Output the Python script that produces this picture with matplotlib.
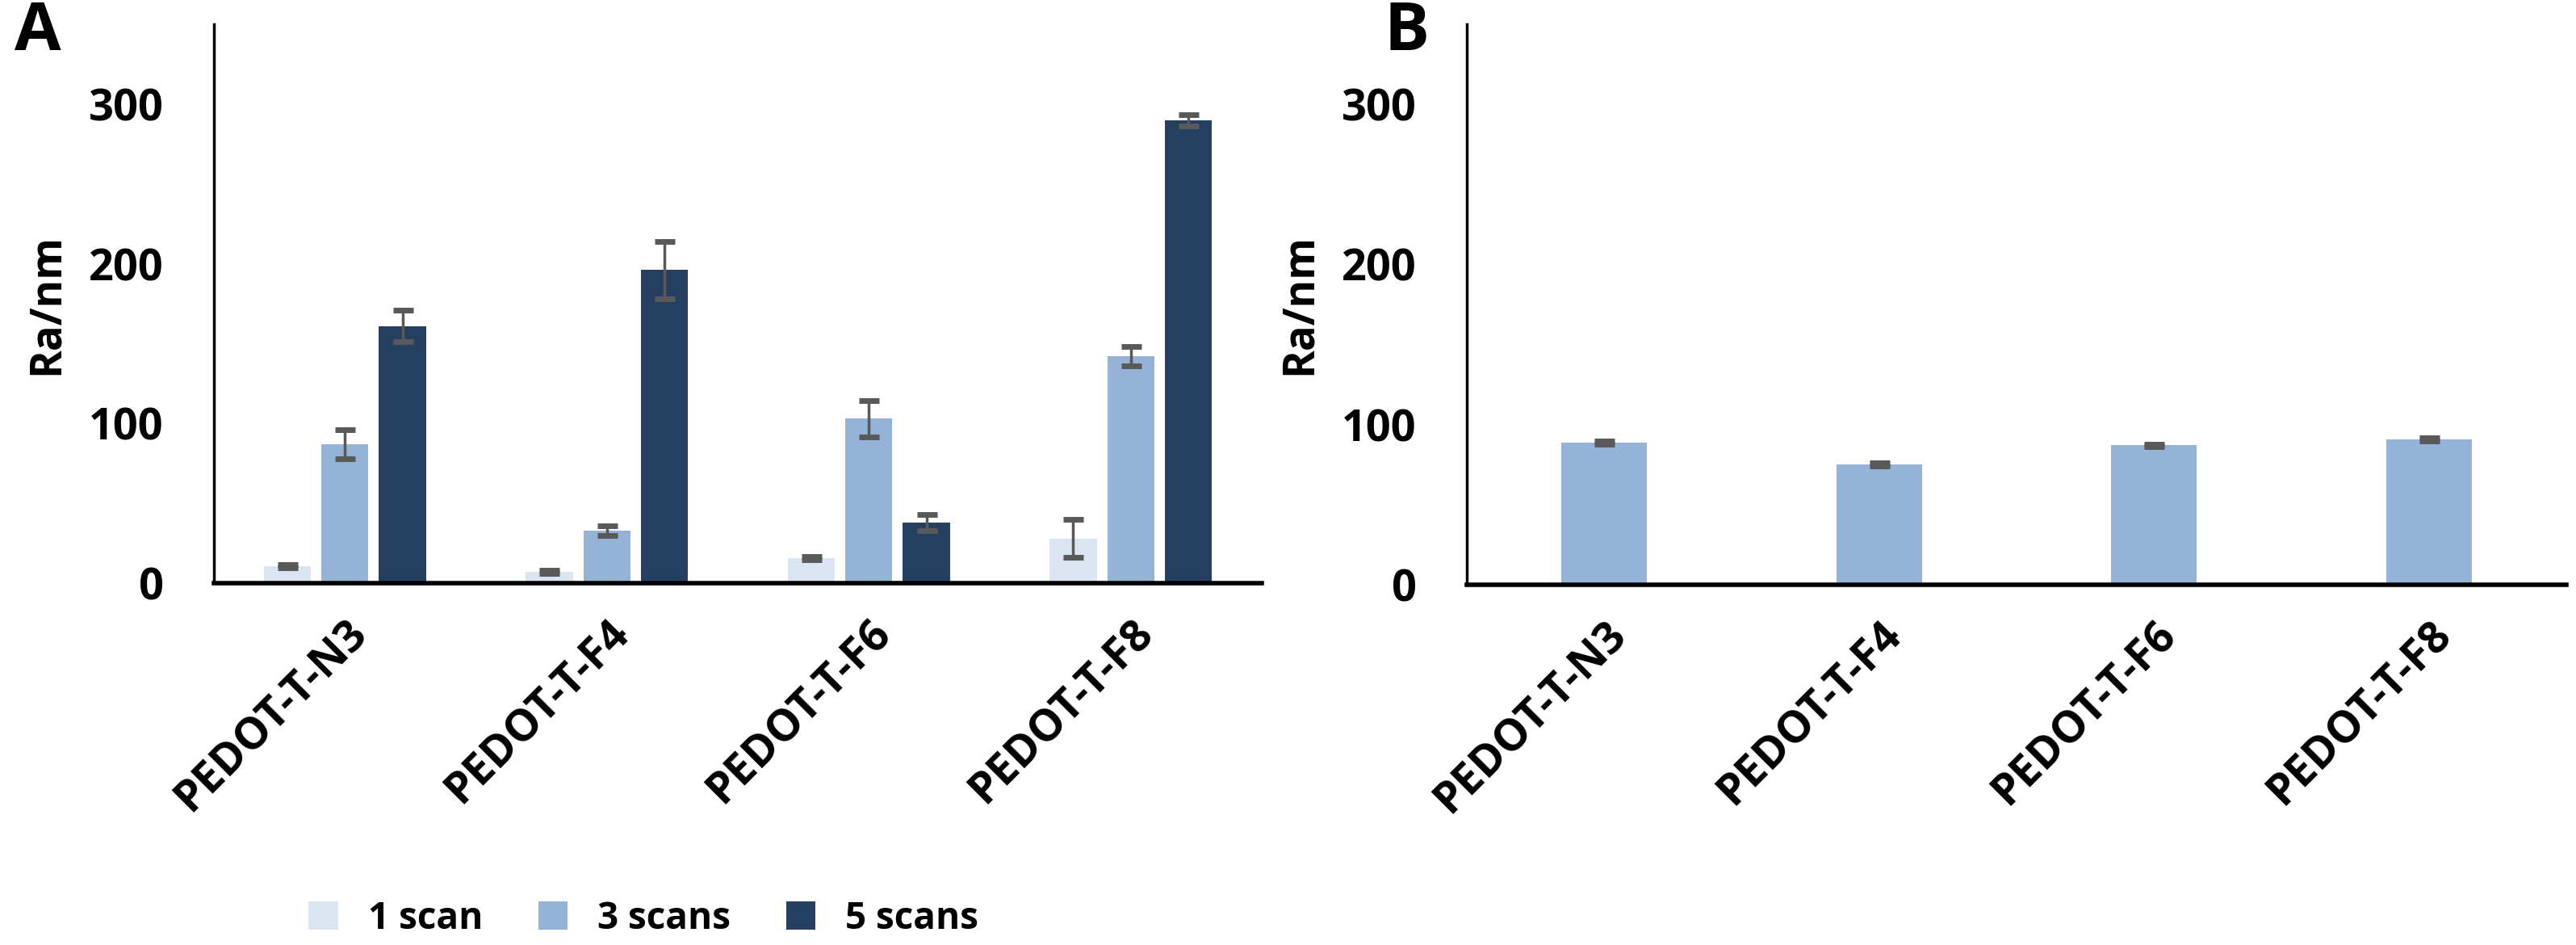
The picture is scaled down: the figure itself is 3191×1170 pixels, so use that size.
import matplotlib
matplotlib.use("Agg")
import matplotlib.pyplot as plt
import numpy as np

categories = ["PEDOT-T-N3", "PEDOT-T-F4", "PEDOT-T-F6", "PEDOT-T-F8"]
series_names = ["1 scan", "3 scans", "5 scans"]
vals_1 = [10.5, 7, 15.5, 28]
err_1 = [1, 1, 1, 12]
vals_3 = [87, 33, 103, 142]
err_3 = [9, 3, 11.5, 6]
vals_5 = [161, 196, 38, 290]
err_5 = [10, 18, 5, 3.5]
b_vals = [89, 75, 87, 91]
b_err = [1, 1, 1, 1]
yticks = [0, 100, 200, 300]

colors = ["#dae5f1", "#95b3d7", "#253f60"]
ecol = "#595959"
plt.rcParams['font.family'] = ['Open Sans', 'DejaVu Sans']
plt.rcParams['font.weight'] = 'bold'

fig = plt.figure(figsize=(31.91, 11.70), dpi=100)
axA = fig.add_axes([265/3191, 1-722/1170, (1563-265)/3191, (722-30)/1170])
axB = fig.add_axes([1817/3191, 1-724/1170, (3179-1817)/3191, (724-30)/1170])

x = np.arange(len(categories))
w = 0.18
off = 0.22
for i, (v, e) in enumerate([(vals_1, err_1), (vals_3, err_3), (vals_5, err_5)]):
    axA.bar(x + (i-1)*off, v, w, color=colors[i], label=series_names[i],
            yerr=e, error_kw=dict(ecolor=ecol, elinewidth=2.5, capsize=9, capthick=5))
axB.bar(x, b_vals, 0.31, color=colors[1],
        yerr=b_err, error_kw=dict(ecolor=ecol, elinewidth=2.5, capsize=9, capthick=5))

for ax, lab in [(axA, "A"), (axB, "B")]:
    ax.set_xlim(-0.5, 3.5)
    ax.set_ylim(0, 350)
    ax.set_yticks(yticks)
    ax.set_xticks(x)
    ax.set_xticklabels(categories, rotation=45, ha='right', rotation_mode='anchor',
                       fontsize=39, fontweight='bold')
    ax.tick_params(axis='y', length=0, labelsize=39, pad=45)
    ax.tick_params(axis='x', length=0, pad=25)
    for t in ax.get_yticklabels():
        t.set_fontweight('bold')
    ax.spines['top'].set_visible(False)
    ax.spines['right'].set_visible(False)
    ax.spines['left'].set_linewidth(2.5)
    ax.spines['bottom'].set_linewidth(4)
    ax.set_ylabel("Ra/nm", fontsize=38, fontweight='bold', labelpad=18)
    ax.text(-0.19 if lab == "A" else -0.075, 0.985, lab, transform=ax.transAxes,
            fontsize=60, fontweight='bold', va='center', ha='left')

axA.legend(loc='center', bbox_to_anchor=(0.41, -0.6), ncol=3, frameon=False,
           handlelength=0.8, handleheight=0.8, columnspacing=1.5,
           prop={'size': 33, 'weight': 'bold'})

fig.savefig("out.png", dpi=100)
